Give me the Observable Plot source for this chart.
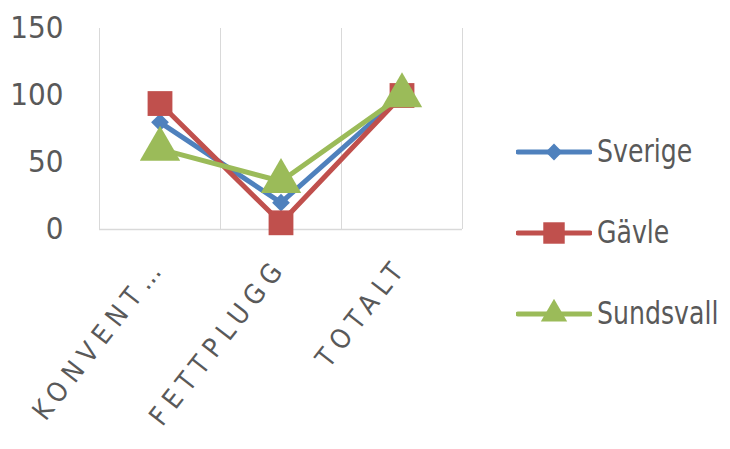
<!DOCTYPE html>
<html>
<head>
<meta charset="utf-8">
<script src="https://cdn.jsdelivr.net/npm/d3@7"></script>
<script src="https://cdn.jsdelivr.net/npm/@observablehq/plot@0.6"></script>
<style>
  body { margin: 0; background: #fff; }
  #wrap { position: relative; width: 730px; height: 449px; overflow: hidden; }
  #legend { position: absolute; left: 516px; top: 111px; font-family: "Liberation Sans Narrow", "DejaVu Sans Condensed", sans-serif; font-size: 28px; color: #595959; }
  .item { display: flex; align-items: center; height: 81px; }
  .item svg { display: block; margin-right: 5px; }
  .item span { transform: scaleY(1.15); display: inline-block; }
  g[aria-label="x-axis tick label"] text { letter-spacing: 7px; font-size: 27px; }
</style>
</head>
<body>
<div id="wrap"></div>
<script>
const categories = ["KONVENT…", "FETTPLUGG", "TOTALT"];
const seriesNames = ["Sverige", "Gävle", "Sundsvall"];
const sverige = [80, 20, 100];
const gavle = [94, 5, 100];
const sundsvall = [60, 36, 100];
const yTicks = [0, 50, 100, 150];
const colors = ["#4F81BD", "#C0504D", "#9BBB59"];
const symbols = ["diamond2", "square", "triangle"];
const radii = [8, 14, 15];

const valuesBySeries = [sverige, gavle, sundsvall];
const idx = categories.map((_, i) => i);
const bandEdges = [-0.5, 0.5, 1.5, 2.5];

const marks = [
  Plot.ruleX(bandEdges, {x: d => d, y1: 0, y2: 150, stroke: "#d9d9d9", strokeWidth: 1}),
  Plot.ruleY([0], {x1: -0.5, x2: 2.5, stroke: "#d9d9d9", strokeWidth: 1.5}),
  Plot.axisY({ticks: yTicks, tickSize: 0, tickPadding: 36, fontSize: 31, fill: "#595959", label: null}),
  Plot.axisX({ticks: idx, tickFormat: i => categories[i], tickSize: 0, tickRotate: -52, tickPadding: 32, fontSize: 27, fill: "#595959", label: null})
];
valuesBySeries.forEach((vals, s) => {
  const data = vals.map((v, i) => ({i, v}));
  marks.push(Plot.line(data, {x: "i", y: "v", stroke: colors[s], strokeWidth: 5}));
  marks.push(Plot.dot(data, {x: "i", y: "v", symbol: () => symbols[s], r: radii[s], fill: colors[s], stroke: "none"}));
});

const chart = Plot.plot({
  width: 730,
  height: 449,
  marginLeft: 99,
  marginRight: 268,
  marginTop: 28,
  marginBottom: 220,
  style: {fontFamily: "'Liberation Sans Narrow', 'DejaVu Sans Condensed', sans-serif", background: "#fff"},
  x: {type: "linear", domain: [-0.5, 2.5], label: null},
  y: {domain: [0, 150], label: null},
  symbol: {type: "identity"},
  marks
});
const wrap = document.getElementById("wrap");
wrap.appendChild(chart);

const legend = document.createElement("div");
legend.id = "legend";
seriesNames.forEach((name, s) => {
  const item = document.createElement("div");
  item.className = "item";
  const svg = d3.create("svg").attr("width", 76).attr("height", 30);
  svg.append("line").attr("x1", 2).attr("x2", 74).attr("y1", 15).attr("y2", 15)
    .attr("stroke", colors[s]).attr("stroke-width", 5).attr("stroke-linecap", "round");
  const sym = [d3.symbolDiamond2, d3.symbolSquare, d3.symbolTriangle][s];
  const size = [180, 460, 300][s];
  svg.append("path").attr("d", d3.symbol(sym, size)()).attr("transform", "translate(38,15)").attr("fill", colors[s]);
  item.appendChild(svg.node());
  const span = document.createElement("span");
  span.textContent = name;
  item.appendChild(span);
  legend.appendChild(item);
});
wrap.appendChild(legend);
</script>
</body>
</html>
